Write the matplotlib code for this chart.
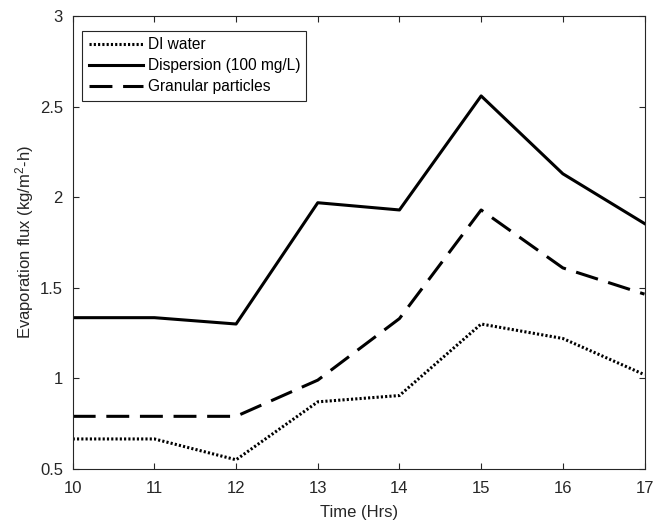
import matplotlib
matplotlib.use("Agg")
import matplotlib.pyplot as plt

plt.rcParams.update({
    "font.family": ["Liberation Sans", "DejaVu Sans"],
    "mathtext.fontset": "custom",
    "mathtext.rm": "Liberation Sans",
    "mathtext.it": "Liberation Sans:italic",
    "axes.edgecolor": "#262626",
    "xtick.color": "#262626",
    "ytick.color": "#262626",
    "axes.labelcolor": "#262626",
})

hours = [10, 11, 12, 13, 14, 15, 16, 17]
di_water = [0.665, 0.665, 0.55, 0.87, 0.905, 1.30, 1.22, 1.02]
dispersion = [1.335, 1.335, 1.30, 1.97, 1.93, 2.56, 2.13, 1.855]
granular = [0.79, 0.79, 0.79, 0.99, 1.33, 1.93, 1.61, 1.465]

y_ticks = [0.5, 1, 1.5, 2, 2.5, 3]
y_tick_labels = ["0.5", "1", "1.5", "2", "2.5", "3"]

fig = plt.figure(figsize=(6.58, 5.25), dpi=100)
ax = fig.add_axes([0.1105, 0.107, 0.869, 0.862])

ax.plot(hours, di_water, color="black", lw=2.2, linestyle=(0, (0.7, 0.7)), label="DI water")
ax.plot(hours, dispersion, color="black", lw=2.2, linestyle="-", label="Dispersion (100 mg/L)")
ax.plot(hours, granular, color="black", lw=2.2, linestyle=(0, (7.5, 3.5)), label="Granular particles")

ax.set_xlim(10, 17)
ax.set_ylim(0.5, 3)
ax.set_xticks(hours)
ax.set_yticks(y_ticks)
ax.set_yticklabels(y_tick_labels)
ax.tick_params(direction="in", top=True, right=True, labelsize=12, length=4, width=0.8)
ax.tick_params(axis="x", pad=9)
ax.tick_params(axis="y", pad=7)
for s in ax.spines.values():
    s.set_linewidth(0.8)

ax.set_xlabel("Time (Hrs)", fontsize=12, labelpad=6)
ax.set_ylabel("Evaporation flux (kg/m$^2$-h)", fontsize=12, labelpad=3)

leg = ax.legend(loc="upper left", bbox_to_anchor=(0.017, 0.968), fontsize=11.2,
                handlelength=3.5, handletextpad=0.3, labelspacing=0.4,
                borderpad=0.4, borderaxespad=0, fancybox=False, framealpha=1)
leg.get_frame().set_edgecolor("#262626")
leg.get_frame().set_linewidth(0.8)

fig.savefig("out.png", dpi=100)
